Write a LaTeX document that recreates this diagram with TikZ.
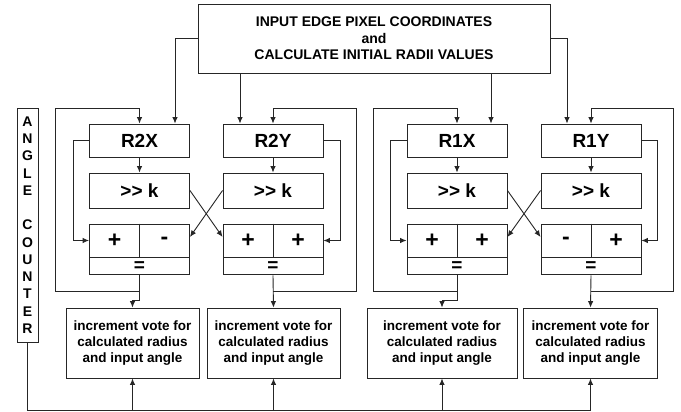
\documentclass[tikz,border=0pt]{standalone}
\usepackage{fontspec}
\setmainfont{Liberation Sans}
\usetikzlibrary{arrows.meta}
\begin{document}
\begin{tikzpicture}[x=1pt,y=-1pt,line width=0.9pt,
  box/.style={draw=black!85, line width=0.9pt, rectangle, inner sep=0pt},
  conn/.style={draw=black!85, line width=0.9pt},
  arw/.style={conn, -{Latex[length=6.5pt,width=5.5pt]}},
  bigf/.style={font=\bfseries\fontsize{19}{22}\selectfont},
  signf/.style={font=\bfseries\fontsize{23}{24}\selectfont},
  votef/.style={font=\bfseries\fontsize{13.5}{16}\selectfont},
  topf/.style={font=\bfseries\fontsize{14}{16.5}\selectfont}]
\useasboundingbox (0,0) rectangle (681,412);
\fill[white] (0,0) rectangle (681,412);

% top box
\node[box, topf, align=center, minimum width=352, minimum height=69] (top) at (374,38.5)
  {INPUT EDGE PIXEL COORDINATES\\and\\CALCULATE INITIAL RADII VALUES};

% angle counter
\node[box, align=center, minimum width=21, minimum height=234,
  font=\bfseries\fontsize{14}{17.25}\selectfont] (cnt) at (27.5,225)
  {A\\N\\G\\L\\E\\[17.25pt]C\\O\\U\\N\\T\\E\\R};

% four channels
\foreach \n/\x/\a/\b in {2X/139.5/+/-, 2Y/273/+/+, 1X/457/+/+, 1Y/591/-/+}{
  \node[box, bigf, minimum width=100, minimum height=33] (R\n) at (\x,140.5) {R\n};
  \node[box, bigf, minimum width=100, minimum height=35] (K\n) at (\x,190.5) {>{}> k};
  \node[box, minimum width=100, minimum height=33] (A\n) at (\x,240.5) {};
  \node[box, bigf, minimum width=100, minimum height=17, anchor=north] (E\n) at (A\n.south) {=};
  \draw[conn] (A\n.north) -- (A\n.south);
  \node[signf] (P\n) at ([xshift=-25pt]A\n.center) {\a};
  \node[signf] (Q\n) at ([xshift=25pt]A\n.center) {\b};
  \draw[arw] (R\n.south) -- (K\n.north);
}

% vote boxes
\node[box, votef, align=center, minimum width=133, minimum height=70] (V1) at (132.5,343)
  {increment vote for\\calculated radius\\and input angle};
\node[box, votef, align=center, minimum width=133, minimum height=70] (V2) at (273.5,343)
  {increment vote for\\calculated radius\\and input angle};
\node[box, votef, align=center, minimum width=150, minimum height=70] (V3) at (442,343)
  {increment vote for\\calculated radius\\and input angle};
\node[box, votef, align=center, minimum width=133.5, minimum height=70] (V4) at (590.5,343)
  {increment vote for\\calculated radius\\and input angle};

% inputs from top box
\coordinate (i1) at ([xshift=35.5pt]R2X.north);
\coordinate (i2) at ([xshift=-33pt]R2Y.north);
\coordinate (i3) at ([xshift=34pt]R1X.north);
\coordinate (i4) at ([xshift=-24pt]R1Y.north);
\draw[arw] (top.west) -| (i1);
\draw[arw] (top.south -| i2) -- (i2);
\draw[arw] (top.south -| i3) -- (i3);
\draw[arw] (top.east) -| (i4);

% inner loops
\coordinate (l1) at (73,0);
\coordinate (l2) at (340,0);
\coordinate (l3) at (390,0);
\coordinate (l4) at (657,0);
\draw[arw] (R2X.west) -- (R2X.west -| l1) -- (A2X.west -| l1) -- (A2X.west);
\draw[arw] (R2Y.east) -- (R2Y.east -| l2) -- (A2Y.east -| l2) -- (A2Y.east);
\draw[arw] (R1X.west) -- (R1X.west -| l3) -- (A1X.west -| l3) -- (A1X.west);
\draw[arw] (R1Y.east) -- (R1Y.east -| l4) -- (A1Y.east -| l4) -- (A1Y.east);

% cross connections
\draw[arw] (K2X.east) -- ([yshift=3.5pt]A2Y.west);
\draw[arw] (K2Y.west) -- ([yshift=3.5pt]A2X.east);
\draw[arw] (K1X.east) -- ([yshift=3.5pt]A1Y.west);
\draw[arw] (K1Y.west) -- ([yshift=3.5pt]A1X.east);

% outputs to vote boxes
\draw[arw] (E2X.south) -- ++(0,25) -| (V1.north);
\draw[arw] (E2Y.south) -- (V2.north);
\draw[arw] (E1X.south) -- ++(0,25) -| (V3.north);
\draw[arw] (E1Y.south) -- (V4.north);

% outer feedback loops
\coordinate (f1) at (55,108);
\coordinate (f2) at (356,108);
\coordinate (f3) at (373,108);
\coordinate (f4) at (673,108);
\draw[arw] ([yshift=-16pt]E2X.south) -| (f1) -| (R2X.north);
\draw[arw] ([yshift=-16pt]E2Y.south) -| (f2) -| (R2Y.north);
\draw[arw] ([yshift=-16pt]E1X.south) -| (f3) -| (R1X.north);
\draw[arw] ([yshift=-16pt]E1Y.south) -| (f4) -| (R1Y.north);

% angle counter bus
\coordinate (b0) at (27.5,410);
\draw[conn] (cnt.south) -- (b0) -- (b0 -| V4.south);
\draw[arw] (b0 -| V1.south) -- (V1.south);
\draw[arw] (b0 -| V2.south) -- (V2.south);
\draw[arw] (b0 -| V3.south) -- (V3.south);
\draw[arw] (b0 -| V4.south) -- (V4.south);
\end{tikzpicture}
\end{document}
